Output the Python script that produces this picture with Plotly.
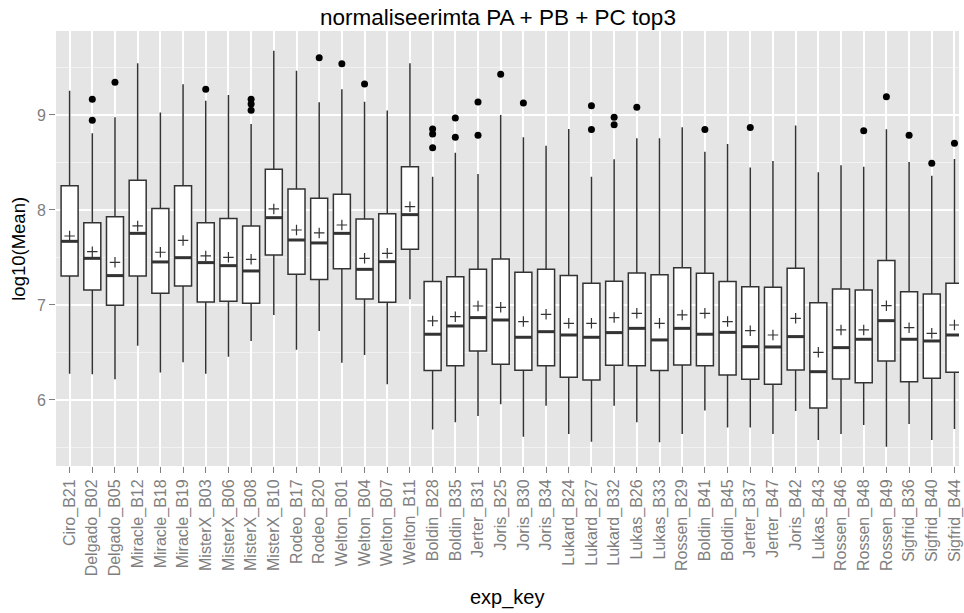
import plotly.graph_objects as go

categories = ["Ciro_B21", "Delgado_B02", "Delgado_B05", "Miracle_B12", "Miracle_B18", "Miracle_B19",
              "MisterX_B03", "MisterX_B06", "MisterX_B08", "MisterX_B10", "Rodeo_B17", "Rodeo_B20",
              "Welton_B01", "Welton_B04", "Welton_B07", "Welton_B11", "Boldin_B28", "Boldin_B35",
              "Jerter_B31", "Joris_B25", "Joris_B30", "Joris_B34", "Lukard_B24", "Lukard_B27",
              "Lukard_B32", "Lukas_B26", "Lukas_B33", "Rossen_B29", "Boldin_B41", "Boldin_B45",
              "Jerter_B37", "Jerter_B47", "Joris_B42", "Lukas_B43", "Rossen_B46", "Rossen_B48",
              "Rossen_B49", "Sigfrid_B36", "Sigfrid_B40", "Sigfrid_B44"]

upper_whisker = [9.256, 8.807, 8.975, 9.544, 9.025, 9.323, 9.151, 9.21, 8.905, 9.677, 9.466, 9.133,
                 9.27, 9.14, 9.046, 9.544, 8.35, 8.603, 8.379, 9.0, 8.765, 8.677, 8.853, 8.35,
                 8.533, 8.754, 8.754, 8.87, 8.614, 8.695, 8.446, 8.516, 8.888, 8.397, 8.47, 8.456,
                 8.849, 8.505, 8.36, 8.537]
q3 = [8.256, 7.866, 7.93, 8.312, 8.016, 8.256, 7.866, 7.909, 7.832, 8.43, 8.221, 8.123,
      8.165, 7.905, 7.96, 8.456, 7.246, 7.298, 7.375, 7.484, 7.344, 7.375, 7.309, 7.228,
      7.249, 7.337, 7.319, 7.393, 7.333, 7.246, 7.193, 7.186, 7.386, 7.024, 7.168, 7.158,
      7.467, 7.14, 7.116, 7.228]
median = [7.67, 7.491, 7.309, 7.754, 7.453, 7.498, 7.446, 7.414, 7.358, 7.919, 7.684, 7.653,
          7.754, 7.375, 7.456, 7.951, 6.692, 6.779, 6.867, 6.842, 6.66, 6.719, 6.684, 6.66,
          6.709, 6.754, 6.632, 6.754, 6.692, 6.712, 6.561, 6.558, 6.667, 6.298, 6.551, 6.639,
          6.835, 6.639, 6.621, 6.684]
mean = [7.726, 7.561, 7.449, 7.832, 7.555, 7.68, 7.516, 7.502, 7.481, 8.011, 7.789, 7.758,
        7.842, 7.491, 7.544, 8.035, 6.832, 6.877, 6.989, 6.975, 6.825, 6.902, 6.807, 6.807,
        6.867, 6.912, 6.807, 6.895, 6.912, 6.825, 6.73, 6.684, 6.86, 6.502, 6.737, 6.737,
        6.993, 6.761, 6.702, 6.789]
q1 = [7.305, 7.158, 6.997, 7.305, 7.123, 7.2, 7.032, 7.039, 7.018, 7.526, 7.323, 7.267,
      7.382, 7.063, 7.028, 7.586, 6.309, 6.361, 6.516, 6.376, 6.313, 6.361, 6.239, 6.211,
      6.365, 6.361, 6.309, 6.368, 6.361, 6.263, 6.218, 6.165, 6.316, 5.915, 6.221, 6.182,
      6.411, 6.193, 6.228, 6.292]
lower_whisker = [6.277, 6.27, 6.218, 6.572, 6.288, 6.397, 6.277, 6.456, 6.621, 6.895, 6.53, 6.726,
                 6.393, 6.474, 6.165, 7.06, 5.69, 5.765, 5.832, 5.955, 5.614, 5.94, 5.642, 5.561,
                 5.94, 5.765, 5.554, 5.642, 5.888, 5.709, 5.709, 5.642, 5.884, 5.579, 5.642, 5.737,
                 5.508, 5.747, 5.579, 5.695]

outlier_keys = ["Delgado_B02", "Delgado_B02", "Delgado_B05", "MisterX_B03", "MisterX_B08",
                "MisterX_B08", "MisterX_B08", "Rodeo_B20", "Welton_B01", "Welton_B04",
                "Boldin_B28", "Boldin_B28", "Boldin_B28", "Boldin_B35", "Boldin_B35",
                "Jerter_B31", "Jerter_B31", "Joris_B25", "Joris_B30", "Lukard_B27", "Lukard_B27",
                "Lukard_B32", "Lukard_B32", "Lukas_B26", "Boldin_B41", "Jerter_B37", "Rossen_B48",
                "Rossen_B49", "Sigfrid_B36", "Sigfrid_B40", "Sigfrid_B44"]
outlier_values = [9.165, 8.944, 9.344, 9.27, 9.165, 9.116, 9.05, 9.603, 9.54, 9.326,
                  8.853, 8.80, 8.656, 8.968, 8.765, 9.137, 8.786, 9.428, 9.126, 9.098, 8.846,
                  8.975, 8.898, 9.081, 8.846, 8.867, 8.835, 9.193, 8.786, 8.491, 8.702]

y_ticks = [6, 7, 8, 9]

FONT = "Liberation Sans, Arial, Helvetica, sans-serif"
GRAY_TXT = "#7F7F7F"
DARK = "#333333"

fig = go.Figure()
fig.add_trace(go.Box(
    x=categories, q1=q1, median=median, q3=q3,
    lowerfence=lower_whisker, upperfence=upper_whisker,
    boxpoints=False, width=0.75, whiskerwidth=0,
    fillcolor="white", line=dict(color=DARK, width=1.5),
    showlegend=False, hoverinfo="skip",
))
fig.add_trace(go.Scatter(
    x=categories, y=median, mode="markers",
    marker=dict(symbol="line-ew", size=12.2, line=dict(color=DARK, width=3)),
    showlegend=False, hoverinfo="skip",
))
fig.add_trace(go.Scatter(
    x=categories, y=mean, mode="markers",
    marker=dict(symbol="cross-thin", size=7.5, line=dict(color=DARK, width=1.2)),
    showlegend=False, hoverinfo="skip",
))
fig.add_trace(go.Scatter(
    x=outlier_keys, y=outlier_values, mode="markers",
    marker=dict(symbol="circle", size=7, color="black"),
    showlegend=False, hoverinfo="skip",
))

fig.update_layout(
    width=964, height=613,
    margin=dict(l=56, r=0, t=31, b=147),
    paper_bgcolor="white", plot_bgcolor="#E5E5E5",
    font=dict(family=FONT),
    title=dict(text="normaliseerimta PA + PB + PC top3", x=0.5165, xref="container", xanchor="center",
               y=1 - 17 / 613, yref="container", yanchor="middle",
               font=dict(size=22.5, color="black", family=FONT)),
    annotations=[
        dict(text="log10(Mean)", xref="paper", yref="paper", x=-0.0418, y=0.5, textangle=-90,
             showarrow=False, font=dict(size=18.5, color="black", family=FONT),
             xanchor="center", yanchor="middle"),
        dict(text="exp_key", xref="paper", yref="paper", x=0.5, y=-131 / 435, showarrow=False,
             font=dict(size=20, color="black", family=FONT), xanchor="center", yanchor="middle"),
    ],
)
fig.update_xaxes(
    type="category", categoryorder="array", categoryarray=categories,
    range=[-0.6, 39.2], showgrid=True, gridcolor="white", gridwidth=1.5,
    ticks="outside", ticklen=6, tickwidth=1, tickcolor=GRAY_TXT, tickangle=-90,
    tickfont=dict(size=16, color=GRAY_TXT, family=FONT), zeroline=False, showline=False,
)
fig.update_yaxes(
    range=[5.305, 9.884], tickmode="array", tickvals=y_ticks, ticktext=[str(v) for v in y_ticks],
    showgrid=True, gridcolor="white", gridwidth=1.5,
    minor=dict(tickmode="array", tickvals=[5.5, 6.5, 7.5, 8.5, 9.5], showgrid=True,
               gridcolor="#F2F2F2", gridwidth=0.8, ticks=""),
    ticks="outside", ticklen=6, tickwidth=1, tickcolor=GRAY_TXT,
    tickfont=dict(size=16, color=GRAY_TXT, family=FONT), zeroline=False, showline=False,
)

fig.write_html("out.html")
